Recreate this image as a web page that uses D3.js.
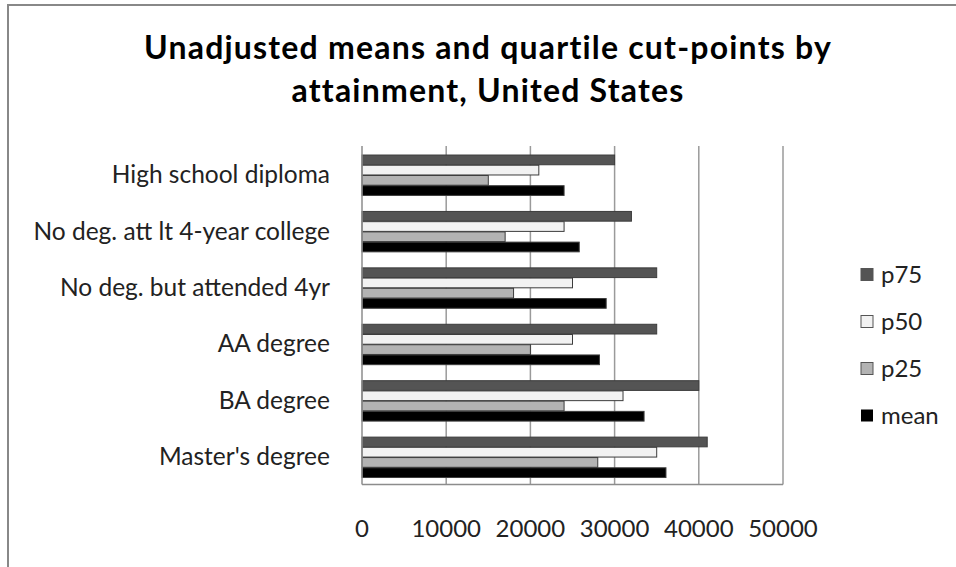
<!DOCTYPE html>
<html>
<head>
<meta charset="utf-8">
<script src="https://cdn.jsdelivr.net/npm/d3@7"></script>
<style>
  html, body { margin: 0; padding: 0; background: #fff; }
  svg { display: block; }
</style>
</head>
<body>
<div id="vis"></div>
<script>
// chart data
const categories = ["High school diploma", "No deg. att lt 4-year college", "No deg. but attended 4yr", "AA degree", "BA degree", "Master's degree"];
const seriesNames = ["p75", "p50", "p25", "mean"];
const p75 = [30000, 32000, 35000, 35000, 40000, 41000];
const p50 = [21000, 24000, 25000, 25000, 31000, 35000];
const p25 = [15000, 17000, 18000, 20000, 24000, 28000];
const mean = [24000, 25800, 29000, 28200, 33500, 36100];
const xTicks = [0, 10000, 20000, 30000, 40000, 50000];
const titleLines = ["Unadjusted means and quartile cut-points by", "attainment, United States"];

const seriesValues = { p75: p75, p50: p50, p25: p25, mean: mean };
const fills = { p75: "#545454", p50: "#f2f2f2", p25: "#b3b3b3", mean: "#000000" };

const W = 956, H = 567;
const font = "Lato, 'Open Sans', sans-serif";
const plot = { left: 362, right: 783, top: 146, bottom: 484.5 };

const svg = d3.select("#vis").append("svg")
    .attr("width", W)
    .attr("height", H);

svg.append("rect").attr("width", W).attr("height", H).attr("fill", "#fff");

// outer frame (runs off the right and bottom edges)
svg.append("path")
    .attr("d", `M8,${H + 5} V5 H${W + 5}`)
    .attr("fill", "none")
    .attr("stroke", "#888")
    .attr("stroke-width", 2);

// title
svg.append("g").selectAll("text")
    .data(titleLines)
    .join("text")
    .attr("x", 488)
    .attr("y", (d, i) => 59 + i * 43)
    .attr("text-anchor", "middle")
    .style("font-family", font)
    .style("font-weight", "bold")
    .style("font-size", "32px")
    .style("letter-spacing", "1.2px")
    .attr("fill", "#000")
    .text(d => d);

const x = d3.scaleLinear().domain([0, 50000]).range([plot.left, plot.right]);
const y0 = d3.scaleBand().domain(categories).range([plot.top, plot.bottom]);
const bw = y0.bandwidth();
const y1 = d3.scaleBand().domain(seriesNames).range([bw * 0.16, bw * 0.885]);

// gridlines
svg.append("g").selectAll("line")
    .data(xTicks.slice(1))
    .join("line")
    .attr("x1", d => x(d)).attr("x2", d => x(d))
    .attr("y1", plot.top).attr("y2", plot.bottom)
    .attr("stroke", "#9a9a9a")
    .attr("stroke-width", 1.5);

// bars
const groups = svg.append("g").selectAll("g")
    .data(categories)
    .join("g")
    .attr("transform", d => `translate(0,${y0(d)})`);

groups.selectAll("rect")
    .data((c, ci) => seriesNames.map(s => ({ s: s, v: seriesValues[s][ci] })))
    .join("rect")
    .attr("x", x(0))
    .attr("y", d => y1(d.s))
    .attr("width", d => x(d.v) - x(0))
    .attr("height", y1.bandwidth() - 0.5)
    .attr("fill", d => fills[d.s])
    .attr("stroke", "#3c3c3c")
    .attr("stroke-width", 1);

// axes lines
svg.append("line")
    .attr("x1", plot.left).attr("x2", plot.left)
    .attr("y1", plot.top).attr("y2", plot.bottom)
    .attr("stroke", "#8c8c8c").attr("stroke-width", 1.5);
svg.append("line")
    .attr("x1", plot.left).attr("x2", plot.right)
    .attr("y1", plot.bottom).attr("y2", plot.bottom)
    .attr("stroke", "#8c8c8c").attr("stroke-width", 1.5);

// category labels
svg.append("g").selectAll("text")
    .data(categories)
    .join("text")
    .attr("x", 330)
    .attr("y", d => y0(d) + bw / 2 + 9)
    .attr("text-anchor", "end")
    .style("font-family", font)
    .style("font-size", "24.5px")
    .attr("fill", "#222")
    .text(d => d);

// x tick labels
svg.append("g").selectAll("text")
    .data(xTicks)
    .join("text")
    .attr("x", d => x(d))
    .attr("y", 537)
    .attr("text-anchor", "middle")
    .style("font-family", font)
    .style("font-size", "24px")
    .attr("fill", "#222")
    .text(d => d);

// legend
const legend = svg.append("g").selectAll("g")
    .data(seriesNames)
    .join("g")
    .attr("transform", (d, i) => `translate(861,${274.5 + i * 47})`);

legend.append("rect")
    .attr("x", 0).attr("y", -6)
    .attr("width", 12).attr("height", 12)
    .attr("fill", d => fills[d])
    .attr("stroke", d => d === "mean" ? "none" : "#555")
    .attr("stroke-width", 1);

legend.append("text")
    .attr("x", 20)
    .attr("y", 8)
    .style("font-family", font)
    .style("font-size", "24px")
    .attr("fill", "#222")
    .text(d => d);
</script>
</body>
</html>
